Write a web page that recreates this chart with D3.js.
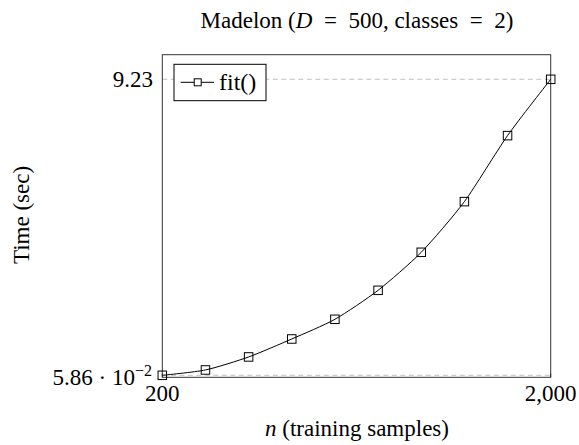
<!DOCTYPE html>
<html>
<head>
<meta charset="utf-8">
<script src="https://cdn.jsdelivr.net/npm/d3@7"></script>
<style>
  body { margin: 0; background: #fff; }
  svg { font-family: "Liberation Serif", "Times New Roman", serif; }
</style>
</head>
<body>
<div id="cont"></div>
<script>
// data
var samples = [200, 400, 600, 800, 1000, 1200, 1400, 1600, 1800, 2000];
var fitTime = [0.0586, 0.224, 0.627, 1.184, 1.794, 2.692, 3.870, 5.440, 7.485, 9.23];
var xTicks = [200, 2000];
var yTicks = [0.0586, 9.23];

var width = 579, height = 445;
var pLeft = 162.3, pRight = 550.7, pTop = 54.7, pBottom = 377.3;

var svg = d3.select("#cont").append("svg")
  .attr("width", width)
  .attr("height", height);

var xScale = d3.scaleLinear().domain([200, 2000]).range([pLeft, pRight]);
// y range chosen so the two ticks land where they do in the picture
var yScale = d3.scaleLinear().domain([0.0586, 9.23]).range([375.3, 79.3]);

// dashed grid lines
svg.append("g")
  .selectAll("line")
  .data(yTicks)
  .enter().append("line")
  .attr("x1", pLeft)
  .attr("x2", pRight)
  .attr("y1", function(d) { return yScale(d); })
  .attr("y2", function(d) { return yScale(d); })
  .attr("stroke", "#b3b3b3")
  .attr("stroke-width", 0.8)
  .attr("stroke-dasharray", "5,3.5");

// frame
svg.append("rect")
  .attr("x", pLeft)
  .attr("y", pTop)
  .attr("width", pRight - pLeft)
  .attr("height", pBottom - pTop)
  .attr("fill", "none")
  .attr("stroke", "#333")
  .attr("stroke-width", 1);

// tick marks
svg.append("g")
  .selectAll("line")
  .data(xTicks)
  .enter().append("line")
  .attr("x1", function(d) { return xScale(d); })
  .attr("x2", function(d) { return xScale(d); })
  .attr("y1", pBottom)
  .attr("y2", pBottom - 4)
  .attr("stroke", "#333");

// x tick labels
svg.append("g")
  .selectAll("text")
  .data(xTicks)
  .enter().append("text")
  .attr("x", function(d) { return xScale(d); })
  .attr("y", 401)
  .attr("text-anchor", "middle")
  .attr("font-size", 23)
  .text(function(d) { return d3.format(",")(d); });

// y tick labels
svg.append("text")
  .attr("x", 153)
  .attr("y", yScale(9.23) + 8)
  .attr("text-anchor", "end")
  .attr("font-size", 23)
  .text("9.23");

var low = svg.append("text")
  .attr("x", 152)
  .attr("y", yScale(0.0586) + 10)
  .attr("text-anchor", "end")
  .attr("font-size", 23);
low.append("tspan").text("5.86 \u00b7 10");
low.append("tspan")
  .attr("dy", -9)
  .attr("font-size", 16)
  .text("\u22122");

// line
var line = d3.line()
  .x(function(d, i) { return xScale(samples[i]); })
  .y(function(d) { return yScale(d); })
  .curve(d3.curveCardinal.tension(0.3));

svg.append("path")
  .datum(fitTime)
  .attr("d", line)
  .attr("fill", "none")
  .attr("stroke", "#000")
  .attr("stroke-width", 1);

var ms = 8.5;
svg.append("g")
  .selectAll("rect")
  .data(fitTime)
  .enter().append("rect")
  .attr("x", function(d, i) { return xScale(samples[i]) - ms / 2; })
  .attr("y", function(d) { return yScale(d) - ms / 2; })
  .attr("width", ms)
  .attr("height", ms)
  .attr("fill", "none")
  .attr("stroke", "#000")
  .attr("stroke-width", 1);

// legend
var lg = svg.append("g");
lg.append("rect")
  .attr("x", 174)
  .attr("y", 64.3)
  .attr("width", 92)
  .attr("height", 36.4)
  .attr("fill", "#fff")
  .attr("stroke", "#000")
  .attr("stroke-width", 1);
lg.append("line")
  .attr("x1", 180.7).attr("x2", 214)
  .attr("y1", 82.3).attr("y2", 82.3)
  .attr("stroke", "#000");
lg.append("rect")
  .attr("x", 197.7 - 3.5).attr("y", 82.3 - 3.5)
  .attr("width", 7).attr("height", 7)
  .attr("fill", "#fff")
  .attr("stroke", "#000");
lg.append("text")
  .attr("x", 219)
  .attr("y", 90)
  .attr("font-size", 24)
  .text("fit()");

// title
var title = svg.append("text")
  .attr("x", 357)
  .attr("y", 28)
  .attr("text-anchor", "middle")
  .attr("font-size", 23);
title.append("tspan").text("Madelon (");
title.append("tspan").attr("font-style", "italic").text("D");
title.append("tspan").text("\u2002=\u2002500, classes\u2002=\u20022)");

// axis labels
var xl = svg.append("text")
  .attr("x", 357)
  .attr("y", 436)
  .attr("text-anchor", "middle")
  .attr("font-size", 23);
xl.append("tspan").attr("font-style", "italic").text("n");
xl.append("tspan").text(" (training samples)");

svg.append("text")
  .attr("transform", "translate(29," + 215 + ") rotate(-90)")
  .attr("text-anchor", "middle")
  .attr("font-size", 23)
  .text("Time (sec)");
</script>
</body>
</html>
